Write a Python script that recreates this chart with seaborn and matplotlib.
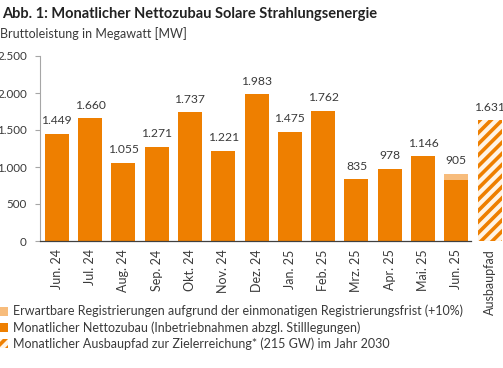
import matplotlib
matplotlib.use("Agg")
import matplotlib.pyplot as plt
import seaborn as sns
import pandas as pd
from matplotlib.patches import Patch

# data (MW)
months = ["Jun. 24", "Jul. 24", "Aug. 24", "Sep. 24", "Okt. 24", "Nov. 24", "Dez. 24",
          "Jan. 25", "Feb. 25", "Mrz. 25", "Apr. 25", "Mai. 25", "Jun. 25"]
net_add = [1449, 1660, 1055, 1271, 1737, 1221, 1983, 1475, 1762, 835, 978, 1146, 823]
expected_extra = [0, 0, 0, 0, 0, 0, 0, 0, 0, 0, 0, 0, 82]
path_label = "Ausbaupfad"
path_value = 1631
yticks = [0, 500, 1000, 1500, 2000, 2500]

orange = "#EE7F00"
light = "#F7BC7C"
text_c = "#3A3A3A"

sns.set_style("white")
plt.rcParams["font.family"] = ["Lato", "DejaVu Sans"]
plt.rcParams["hatch.linewidth"] = 2.6

def de(v):
    return f"{v:,}".replace(",", ".")

df = pd.DataFrame({"month": months + [path_label], "value": net_add + [path_value]})

fig = plt.figure(figsize=(5.03, 3.68), dpi=100)
ax = fig.add_axes([40 / 503, 127 / 368, 463 / 503, 185 / 368])

sns.barplot(data=df, x="month", y="value", color=orange, saturation=1, width=0.72,
            ax=ax, linewidth=0)
# hatched target bar
p = ax.patches[-1]
p.set_facecolor("#FFF4E6")
p.set_edgecolor(orange)
p.set_hatch("///")
p.set_linewidth(0)

# expected late registrations on top
ax.bar(range(len(months)), expected_extra, bottom=net_add, width=0.72, color=light, linewidth=0)

totals = [a + b for a, b in zip(net_add, expected_extra)] + [path_value]
for i, t in enumerate(totals):
    ax.annotate(de(t), (i, t), xytext=(0, 5.5), textcoords="offset points",
                ha="center", va="bottom", fontsize=8.7, color=text_c)

ax.set_xlim(-0.5, 13.4)
ax.set_ylim(0, 2500)
ax.set_yticks(yticks)
ax.set_yticklabels([de(v) for v in yticks], fontsize=8.4, color=text_c)
ax.set_xlabel("")
ax.set_ylabel("")
ax.tick_params(axis="x", rotation=90, labelsize=9, labelcolor=text_c, length=0, pad=6)
ax.tick_params(axis="y", left=True, length=3.5, color="#A6A6A6", pad=6)
for lab in ax.get_xticklabels():
    lab.set_rotation(90)
for s in ["top", "right"]:
    ax.spines[s].set_visible(False)
ax.spines["left"].set_color("#A6A6A6")
ax.spines["left"].set_linewidth(0.8)
ax.spines["bottom"].set_color("#404040")
ax.spines["bottom"].set_linewidth(0.9)
ax.spines["bottom"].set_bounds(-0.5, 12.45)

fig.text(0.004, 0.963, "Abb. 1: Monatlicher Nettozubau Solare Strahlungsenergie",
         fontsize=10.5, fontweight="bold", color="#222222", va="center")
fig.text(0.0, 0.91, "Bruttoleistung in Megawatt [MW]", fontsize=9, color=text_c, va="center")

handles = [Patch(facecolor=light, linewidth=0),
           Patch(facecolor=orange, linewidth=0),
           Patch(facecolor="#FFF4E6", edgecolor=orange, hatch="///", linewidth=0)]
labels = ["Erwartbare Registrierungen aufgrund der einmonatigen Registrierungsfrist (+10%)",
          "Monatlicher Nettozubau (Inbetriebnahmen abzgl. Stilllegungen)",
          "Monatlicher Ausbaupfad zur Zielerreichung* (215 GW) im Jahr 2030"]
fig.legend(handles, labels, loc="upper left", bbox_to_anchor=(-0.012, 0.185),
           frameon=False, fontsize=9, handlelength=0.75, handleheight=0.75,
           handletextpad=0.35, labelspacing=0.3, labelcolor=text_c, borderaxespad=0)

fig.savefig("out.png", dpi=100)
